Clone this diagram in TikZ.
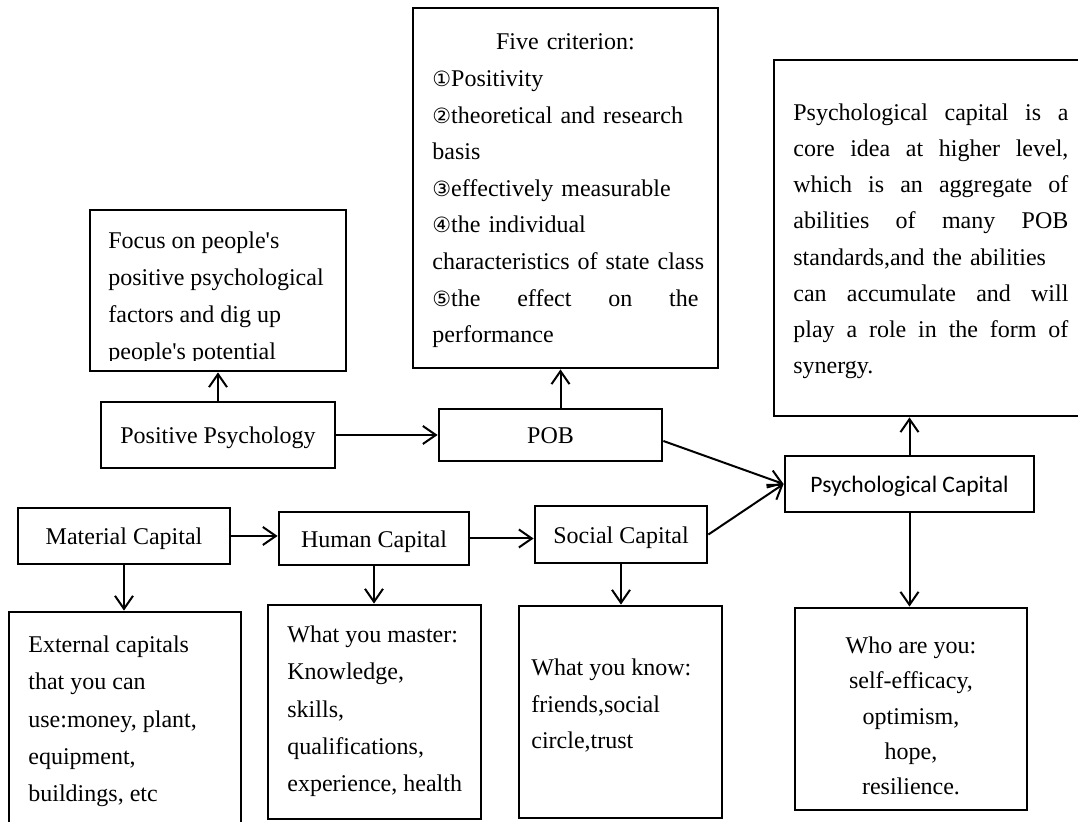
\documentclass[tikz,border=0pt]{standalone}
\usepackage{fontspec}
\setmainfont{Liberation Serif}[Ligatures=TeXOff]
\newfontfamily\calib{Carlito}
\newfontfamily\circfont{DejaVu Sans}
\usetikzlibrary{fit,arrows.meta}
\newcommand{\cn}[1]{{\circfont\fontsize{10.5pt}{12pt}\selectfont #1}}
\newcommand{\spreadline}[2]{\makebox[#1][l]{#2}}
\tikzset{
  frame/.style={draw, line width=1.4pt, inner sep=0pt},
  lbl/.style={draw, line width=1.4pt, inner sep=0pt, text height=9pt, text depth=0pt,
    font=\fontsize{12pt}{14pt}\selectfont},
  txt/.style={inner sep=0pt, anchor=north west, align=left},
  arr/.style={-{Straight Barb[length=6.5pt,width=9pt]}, line width=1pt},
}
\begin{document}
\begin{tikzpicture}[x=0.5pt,y=-0.5pt]
\fill[white] (0,0) rectangle (1078,822);
\useasboundingbox (0,0) rectangle (1078,822);

% frames without inner text
\node[frame, fit={(90,210) (346,371)}] (focus) {};
\node[frame, fit={(413,8) (718,368)}] (five) {};
\node[frame, fit={(774,60) (1090,416)}] (big) {};
\node[frame, fit={(9,612) (241,840)}] (ext) {};
\node[frame, fit={(268,605) (481,819)}] (hmt) {};
\node[frame, fit={(519,606) (722,818)}] (sct) {};
\node[frame, fit={(795,608) (1027,810)}] (who) {};

% labelled boxes
\node[lbl, minimum width=117pt, minimum height=33pt] (pp) at (218,435) {Positive Psychology};
\node[lbl, minimum width=111.5pt, minimum height=26pt] (pob) at (550.5,435) {POB};
\node[lbl, minimum width=124.5pt, minimum height=28pt, font=\calib\fontsize{11.8pt}{14pt}\selectfont] (psy) at (909.5,484) {Psychological Capital};
\node[lbl, minimum width=106pt, minimum height=28pt] (mat) at (124,536) {Material Capital};
\node[lbl, minimum width=95pt, minimum height=26.5pt] (hum) at (374,538.5) {Human Capital};
\node[lbl, minimum width=86pt, minimum height=28.5pt] (soc) at (621,534.5) {Social Capital};

% texts
\begin{scope}
\clip (90,210) rectangle (346,361);
\node[txt, font=\fontsize{12pt}{18.5pt}\selectfont] (focustxt) at (108,231.6)
  {Focus on people's\\positive psychological\\factors and dig up\\people's potential};
\end{scope}

\node[txt, text width=142pt, font=\fontsize{12pt}{18.3pt}\selectfont] (fivetxt) at (432,33.6)
  {\makebox[133pt][c]{Five criterion:}\\
   \cn{①}Positivity\\
   \cn{②}theoretical and research\\
   basis\\
   \cn{③}effectively measurable\\
   \cn{④}the individual\\
   characteristics of state class\\
   \spreadline{133pt}{\cn{⑤}the\hfill effect\hfill on\hfill the}\\
   performance};

\node[txt, text width=142pt, font=\fontsize{12pt}{18.05pt}\selectfont] (bigtxt) at (793,103.6)
  {\spreadline{137.5pt}{Psychological\hfill capital\hfill is\hfill a}\\
   \spreadline{137.5pt}{core\hfill idea\hfill at\hfill higher\hfill level,}\\
   \spreadline{137.5pt}{which\hfill is\hfill an\hfill aggregate\hfill of}\\
   \spreadline{137.5pt}{abilities\hfill of\hfill many\hfill POB}\\
   standards,and the abilities\\
   \spreadline{137.5pt}{can\hfill accumulate\hfill and\hfill will}\\
   \spreadline{137.5pt}{play\hfill a\hfill role\hfill in\hfill the\hfill form\hfill of}\\
   synergy.};

\node[txt, font=\fontsize{12pt}{18.6pt}\selectfont] (exttxt) at (28,635.6)
  {External capitals\\that you can\\use:money, plant,\\equipment,\\buildings, etc};
\node[txt, font=\fontsize{12pt}{18.6pt}\selectfont] (hmttxt) at (287,625.6)
  {What you master:\\Knowledge,\\skills,\\qualifications,\\experience, health};
\node[txt, font=\fontsize{12pt}{18.3pt}\selectfont] (scttxt) at (531,658.6)
  {What you know:\\friends,social\\circle,trust};
\node[inner sep=0pt, anchor=north, align=center, font=\fontsize{12pt}{17.6pt}\selectfont] (whotxt) at (911,636.6)
  {Who are you:\\self-efficacy,\\optimism,\\hope,\\resilience.};

% connectors
\draw[arr] (pp.north) -- (pp.north |- focus.south);
\draw[arr] (pp.east) -- (pp.east -| pob.west);
\draw[arr] ([xshift=5pt]pob.north) -- ([xshift=5pt]pob.north |- five.south);
\draw[arr] ([yshift=-3pt]pob.east) -- (psy.west);
\draw[arr] (soc.east) -- (psy.west);
\draw[arr] (psy.north) -- (psy.north |- big.south);
\draw[arr] (psy.south) -- (psy.south |- who.north);
\draw[arr] (mat.east) -- (mat.east -| hum.west);
\draw[arr] (hum.east) -- (hum.east -| soc.west);
\draw[arr] (mat.south) -- (mat.south |- ext.north);
\draw[arr] (hum.south) -- (hum.south |- hmt.north);
\draw[arr] (soc.south) -- (soc.south |- sct.north);
\end{tikzpicture}
\end{document}
